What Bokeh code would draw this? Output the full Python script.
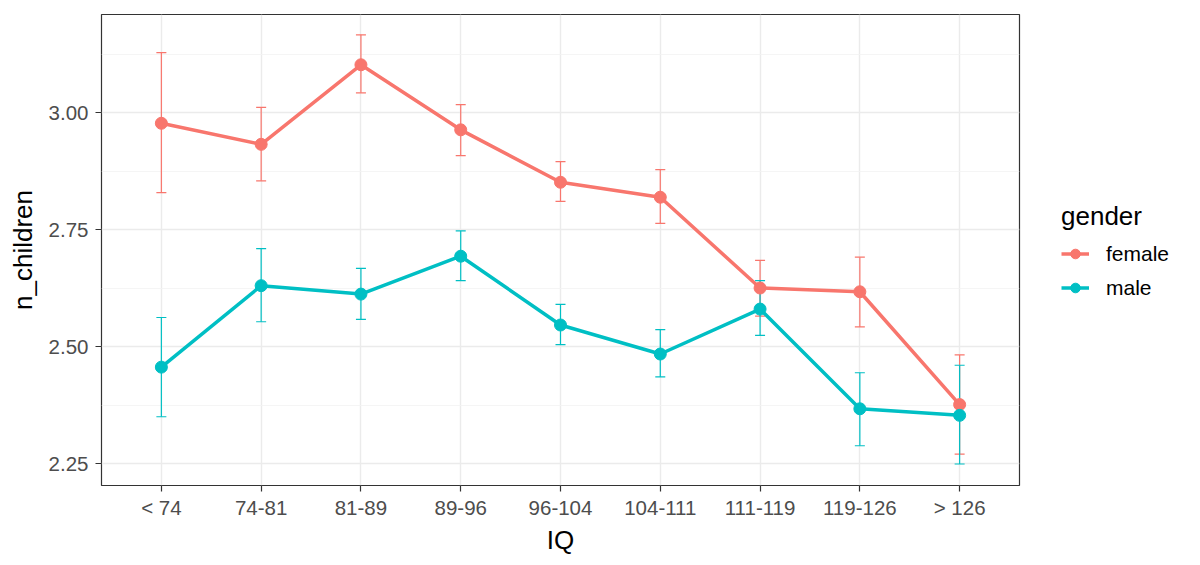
from bokeh.plotting import figure
from bokeh.models import (ColumnDataSource, Whisker, TeeHead, FixedTicker, Range1d,
                          Legend, LegendItem, CustomJSTickFormatter)
from bokeh.embed import file_html
from bokeh.resources import INLINE

categories = ["< 74", "74-81", "81-89", "89-96", "96-104", "104-111", "111-119", "119-126", "> 126"]
female_mean = [2.977, 2.932, 3.102, 2.963, 2.851, 2.819, 2.625, 2.617, 2.376]
female_low = [2.829, 2.854, 3.042, 2.908, 2.810, 2.763, 2.565, 2.542, 2.270]
female_high = [3.128, 3.011, 3.166, 3.017, 2.895, 2.878, 2.684, 2.691, 2.482]
male_mean = [2.456, 2.630, 2.612, 2.693, 2.546, 2.484, 2.580, 2.367, 2.353]
male_low = [2.350, 2.553, 2.558, 2.641, 2.504, 2.435, 2.524, 2.288, 2.249]
male_high = [2.562, 2.709, 2.667, 2.747, 2.590, 2.536, 2.641, 2.444, 2.460]
y_ticks = [2.25, 2.50, 2.75, 3.00]
y_minor = [2.125, 2.375, 2.625, 2.875, 3.125]

FONT = "Liberation Sans"
W, H = 1190, 557
p = figure(width=W, height=H, output_backend="svg", toolbar_location=None,
           x_range=Range1d(0.4, 9.6), y_range=Range1d(2.2031, 3.2094),
           min_border_left=101, min_border_right=0, min_border_top=14,
           min_border_bottom=H - 485)
p.frame_width = 918
p.frame_height = 471
p.background_fill_color = "white"
p.border_fill_color = "white"
p.outline_line_color = "#333333"
p.outline_line_width = 1.2

xs = list(range(1, len(categories) + 1))
p.xaxis.ticker = FixedTicker(ticks=xs)
p.xaxis.major_label_overrides = {i: c for i, c in zip(xs, categories)}
p.yaxis.ticker = FixedTicker(ticks=y_ticks, minor_ticks=y_minor)
p.yaxis.formatter = CustomJSTickFormatter(code="return tick.toFixed(2);")

for ax in (p.xaxis, p.yaxis):
    ax.axis_line_color = None
    ax.major_tick_line_color = "#333333"
    ax.major_tick_line_width = 1.2
    ax.major_tick_in = 0
    ax.major_tick_out = 6
    ax.minor_tick_line_color = None
    ax.major_label_text_font = FONT
    ax.major_label_text_font_size = "20.5px"
    ax.major_label_text_color = "#4D4D4D"
    ax.axis_label_text_font = FONT
    ax.axis_label_text_font_size = "26px"
    ax.axis_label_text_font_style = "normal"
    ax.axis_label_text_color = "black"
p.xaxis.axis_label = "IQ"
p.yaxis.axis_label = "n_children"
p.xaxis.major_label_standoff = 4
p.yaxis.major_label_standoff = 7
p.xaxis.axis_label_standoff = 3
p.yaxis.axis_label_standoff = 8

p.xgrid.grid_line_color = "#EBEBEB"
p.xgrid.grid_line_width = 1.4
p.ygrid.grid_line_color = "#EBEBEB"
p.ygrid.grid_line_width = 1.4
p.ygrid.minor_grid_line_color = "#F2F2F2"
p.ygrid.minor_grid_line_width = 0.8

F_COL = "#F8766D"
M_COL = "#00BFC4"

src_f = ColumnDataSource(dict(x=xs, y=female_mean, lo=female_low, hi=female_high))
src_m = ColumnDataSource(dict(x=xs, y=male_mean, lo=male_low, hi=male_high))

renderers = {}
for name, src, col in (("female", src_f, F_COL), ("male", src_m, M_COL)):
    w = Whisker(base="x", upper="hi", lower="lo", source=src, line_color=col, line_width=1.2,
                upper_head=TeeHead(size=10, line_color=col, line_width=1.2),
                lower_head=TeeHead(size=10, line_color=col, line_width=1.2))
    p.add_layout(w)
    ln = p.line("x", "y", source=src, line_color=col, line_width=3.5)
    sc = p.scatter("x", "y", source=src, size=12, fill_color=col, line_color=col)
    renderers[name] = [ln, sc]

legend = Legend(items=[LegendItem(label="female", renderers=renderers["female"]),
                       LegendItem(label="male", renderers=renderers["male"])],
                title="gender", location="center_left")
legend.title_text_font = FONT
legend.title_text_font_size = "26px"
legend.title_text_font_style = "normal"
legend.title_text_color = "black"
legend.title_standoff = 10
legend.label_text_font = FONT
legend.label_text_font_size = "21px"
legend.label_text_color = "black"
legend.border_line_color = None
legend.background_fill_alpha = 0
legend.glyph_width = 28
legend.glyph_height = 24
legend.label_height = 24
legend.label_standoff = 17
legend.spacing = 10
legend.padding = 0
legend.margin = 42
p.add_layout(legend, "right")

open("out.html", "w").write(file_html(p, INLINE))
